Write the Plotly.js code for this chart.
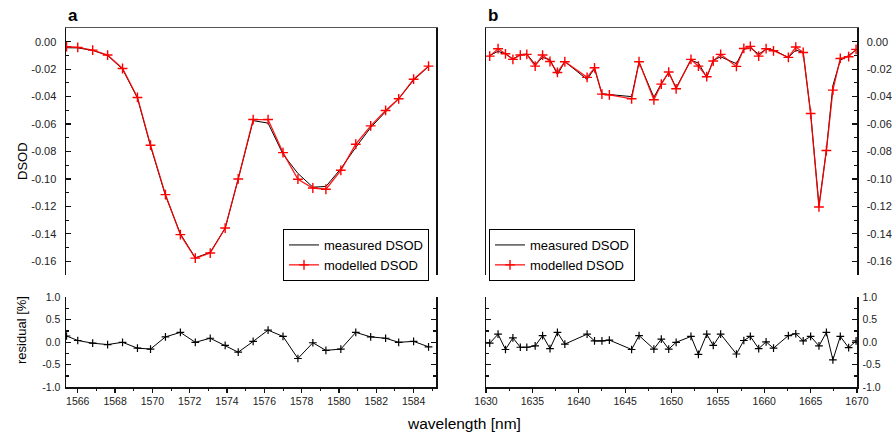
<!DOCTYPE html>
<html><head><meta charset="utf-8">
<script src="https://cdn.plot.ly/plotly-3.0.1.min.js"></script>
<style>html,body{margin:0;padding:0;background:#fff}#c{width:892px;height:434px}</style>
</head><body><div id="c"></div>
<script>
// Panel a data
const wlA = [1565.4,1566.0,1566.8,1567.6,1568.4,1569.2,1569.9,1570.7,1571.5,1572.3,1573.1,1573.9,1574.6,1575.4,1576.2,1577.0,1577.8,1578.6,1579.3,1580.1,1580.9,1581.7,1582.5,1583.2,1584.0,1584.8];
const measA = [-0.0044,-0.0045,-0.0063,-0.0100,-0.0200,-0.0410,-0.0760,-0.1120,-0.1400,-0.1575,-0.1535,-0.1360,-0.1000,-0.0575,-0.0593,-0.0820,-0.0960,-0.1060,-0.1055,-0.0925,-0.0770,-0.0625,-0.0510,-0.0415,-0.0280,-0.0180];
const modA = [-0.0036,-0.0041,-0.0061,-0.0097,-0.0195,-0.0406,-0.0754,-0.1114,-0.1406,-0.1577,-0.1540,-0.1358,-0.1000,-0.0567,-0.0567,-0.0808,-0.1002,-0.1066,-0.1075,-0.0937,-0.0747,-0.0613,-0.0501,-0.0416,-0.0273,-0.0178];
const resA = [0.14,0.04,-0.02,-0.05,0.00,-0.13,-0.15,0.12,0.22,0.00,0.09,-0.07,-0.22,0.02,0.27,0.13,-0.36,-0.01,-0.18,-0.15,0.22,0.12,0.09,0.00,0.02,-0.10];
// Panel b data
const wlB = [1630.4,1631.3,1632.1,1632.9,1633.7,1634.4,1635.3,1636.1,1636.9,1637.7,1638.5,1640.9,1641.7,1642.5,1643.3,1645.7,1646.5,1648.1,1648.9,1649.7,1650.5,1652.1,1652.9,1653.8,1654.5,1655.3,1657.0,1657.8,1658.5,1659.4,1660.2,1661.0,1662.6,1663.4,1664.2,1665.0,1665.9,1666.7,1667.4,1668.2,1669.1,1669.9];
const measB = [-0.0100,-0.0070,-0.0088,-0.0125,-0.0095,-0.0090,-0.0165,-0.0115,-0.0130,-0.0240,-0.0145,-0.0275,-0.0195,-0.0380,-0.0385,-0.0400,-0.0150,-0.0405,-0.0305,-0.0225,-0.0335,-0.0135,-0.0155,-0.0260,-0.0135,-0.0110,-0.0160,-0.0055,-0.0045,-0.0090,-0.0055,-0.0060,-0.0115,-0.0060,-0.0080,-0.0520,-0.1195,-0.0790,-0.0320,-0.0135,-0.0100,-0.0060];
const modB = [-0.0105,-0.0051,-0.0088,-0.0129,-0.0097,-0.0092,-0.0178,-0.0097,-0.0144,-0.0224,-0.0146,-0.0260,-0.0190,-0.0382,-0.0387,-0.0416,-0.0146,-0.0423,-0.0309,-0.0221,-0.0343,-0.0129,-0.0178,-0.0255,-0.0141,-0.0092,-0.0180,-0.0049,-0.0034,-0.0105,-0.0051,-0.0066,-0.0114,-0.0039,-0.0078,-0.0523,-0.1204,-0.0793,-0.0353,-0.0122,-0.0109,-0.0056];
const resB = [-0.02,0.18,-0.16,0.10,-0.11,-0.11,-0.08,0.15,-0.14,0.22,-0.04,0.18,0.03,0.03,0.05,-0.16,0.15,-0.15,0.07,-0.15,0.00,0.13,-0.27,0.18,-0.07,0.18,-0.26,0.04,0.13,-0.14,0.01,-0.13,0.15,0.19,0.03,0.13,-0.08,0.22,-0.39,0.13,-0.12,0.03];
const yTickA = [0,-0.02,-0.04,-0.06,-0.08,-0.10,-0.12,-0.14,-0.16];
const yTickTextA = ['0.00','-0.02','-0.04','-0.06','-0.08','-0.10','-0.12','-0.14','-0.16'];
const resTicks = [1.0,0.5,0.0,-0.5,-1.0];
const resTickText = ['1.0','0.5','0.0','-0.5','-1.0'];

const W=892,H=434;
const px=(x)=>x/W, py=(y)=>1-y/H;
const tickFont={family:'"Liberation Sans Narrow","Arial Narrow","Liberation Sans",Arial,sans-serif',size:11,color:'#222'};
const resFont={family:'"Liberation Sans Narrow","Arial Narrow","Liberation Sans",Arial,sans-serif',size:10.5,color:'#222'};

const traces=[
 {x:wlA,y:measA,xaxis:'x',yaxis:'y',mode:'lines',name:'measured DSOD',line:{color:'#000',width:1},legend:'legend'},
 {x:wlA,y:modA,xaxis:'x',yaxis:'y',mode:'lines+markers',name:'modelled DSOD',line:{color:'rgba(255,0,0,0.9)',width:1.3},marker:{symbol:'cross-thin',size:7,line:{color:'#ff0000',width:1.4}},legend:'legend'},
 {x:wlB,y:measB,xaxis:'x2',yaxis:'y2',mode:'lines',name:'measured DSOD',line:{color:'#000',width:1},legend:'legend2'},
 {x:wlB,y:modB,xaxis:'x2',yaxis:'y2',mode:'lines+markers',name:'modelled DSOD',line:{color:'rgba(255,0,0,0.9)',width:1.3},marker:{symbol:'cross-thin',size:7,line:{color:'#ff0000',width:1.4}},legend:'legend2'},
 {x:wlA,y:resA,xaxis:'x3',yaxis:'y3',mode:'lines+markers',showlegend:false,line:{color:'#000',width:1},marker:{symbol:'cross-thin',size:5.5,line:{color:'#000',width:1.2}}},
 {x:wlB,y:resB,xaxis:'x4',yaxis:'y4',mode:'lines+markers',showlegend:false,line:{color:'#000',width:1},marker:{symbol:'cross-thin',size:5.5,line:{color:'#000',width:1.2}}}
];

const dA=[px(66),px(436)], dB=[px(486),px(857)];
const dTop=[py(275),py(28)], dRes=[py(387.3),py(297.3)];
const rangeA=[1565.37,1585.2], rangeB=[1630,1670];

const layout={
 width:W,height:H,margin:{l:0,r:0,t:0,b:0},paper_bgcolor:'#fff',plot_bgcolor:'#fff',
 font:{family:'"Liberation Sans",Arial,sans-serif',color:'#000'},
 xaxis:{domain:dA,range:rangeA,anchor:'y',side:'top',showline:true,linecolor:'#555',linewidth:1.5,ticks:'',showticklabels:false,showgrid:false,zeroline:false},
 yaxis:{domain:dTop,range:[-0.17,0.01],anchor:'x',side:'left',showline:true,linecolor:'#111',linewidth:1.5,mirror:true,ticks:'inside',ticklen:5,tickwidth:1.2,tickcolor:'#111',tickvals:yTickA,ticktext:yTickTextA,tickfont:tickFont,ticklabelstandoff:6,minor:{ticks:'inside',ticklen:3,tickwidth:1.2,tickcolor:'#111',dtick:0.01,tick0:0,showgrid:false},showgrid:false,zeroline:false},
 xaxis2:{domain:dB,range:rangeB,anchor:'y2',side:'top',showline:true,linecolor:'#555',linewidth:1.5,ticks:'',showticklabels:false,showgrid:false,zeroline:false},
 yaxis2:{domain:dTop,range:[-0.17,0.01],anchor:'x2',side:'right',showline:true,linecolor:'#111',linewidth:1.5,mirror:true,ticks:'inside',ticklen:5,tickwidth:1.2,tickcolor:'#111',tickvals:yTickA,ticktext:yTickTextA,tickfont:tickFont,ticklabelstandoff:6,minor:{ticks:'inside',ticklen:3,tickwidth:1.2,tickcolor:'#111',dtick:0.01,tick0:0,showgrid:false},showgrid:false,zeroline:false},
 xaxis3:{domain:dA,range:rangeA,anchor:'y3',side:'bottom',showline:true,linecolor:'#111',linewidth:1.5,ticks:'outside',ticklen:4,tickwidth:1.2,tickcolor:'#111',tick0:1566,dtick:2,tickfont:resFont,minor:{ticks:'outside',ticklen:2,tickwidth:1,dtick:1,showgrid:false},showgrid:false,zeroline:false},
 yaxis3:{domain:dRes,range:[-1,1],anchor:'x3',side:'left',showline:true,linecolor:'#111',linewidth:1.5,mirror:'ticks',ticks:'inside',ticklen:5,tickwidth:1.2,tickcolor:'#111',tickvals:resTicks,ticktext:resTickText,tickfont:resFont,ticklabelstandoff:2,minor:{ticks:'inside',ticklen:3,tickwidth:1.2,dtick:0.25,tick0:0,showgrid:false},showgrid:false,zeroline:false},
 xaxis4:{domain:dB,range:rangeB,anchor:'y4',side:'bottom',showline:true,linecolor:'#111',linewidth:1.5,ticks:'outside',ticklen:4,tickwidth:1.2,tickcolor:'#111',tick0:1630,dtick:5,tickfont:resFont,minor:{ticks:'outside',ticklen:2,tickwidth:1,dtick:2.5,showgrid:false},showgrid:false,zeroline:false},
 yaxis4:{domain:dRes,range:[-1,1],anchor:'x4',side:'right',showline:true,linecolor:'#111',linewidth:1.5,mirror:'ticks',ticks:'inside',ticklen:5,tickwidth:1.2,tickcolor:'#111',tickvals:resTicks,ticktext:resTickText,tickfont:resFont,ticklabelstandoff:2,minor:{ticks:'inside',ticklen:3,tickwidth:1.2,dtick:0.25,tick0:0,showgrid:false},showgrid:false,zeroline:false},
 legend:{x:px(283),y:py(229),xanchor:'left',yanchor:'top',bgcolor:'#fff',bordercolor:'#000',borderwidth:1,font:{size:13,color:'#000'},tracegroupgap:0,itemwidth:30},
 legend2:{x:px(489),y:py(229),xanchor:'left',yanchor:'top',bgcolor:'#fff',bordercolor:'#000',borderwidth:1,font:{size:13,color:'#000'},tracegroupgap:0,itemwidth:30},
 annotations:[
  {text:'<b>a</b>',xref:'paper',yref:'paper',x:px(66),y:py(16),xanchor:'left',yanchor:'middle',showarrow:false,font:{size:17,color:'#000'}},
  {text:'<b>b</b>',xref:'paper',yref:'paper',x:px(486),y:py(16),xanchor:'left',yanchor:'middle',showarrow:false,font:{size:17,color:'#000'}},
  {text:'DSOD',xref:'paper',yref:'paper',x:px(22),y:py(161),xanchor:'center',yanchor:'middle',textangle:-90,showarrow:false,font:{size:13,family:'"Liberation Sans Narrow","Liberation Sans",Arial,sans-serif',color:'#000'}},
  {text:'residual [%]',xref:'paper',yref:'paper',x:px(21),y:py(330),xanchor:'center',yanchor:'middle',textangle:-90,showarrow:false,font:{size:13,color:'#000'}},
  {text:'wavelength [nm]',xref:'paper',yref:'paper',x:px(464),y:py(423),xanchor:'center',yanchor:'middle',showarrow:false,font:{size:15.5,color:'#000'}}
 ]
};
Plotly.newPlot('c',traces,layout,{displayModeBar:false,staticPlot:true});
</script></body></html>
